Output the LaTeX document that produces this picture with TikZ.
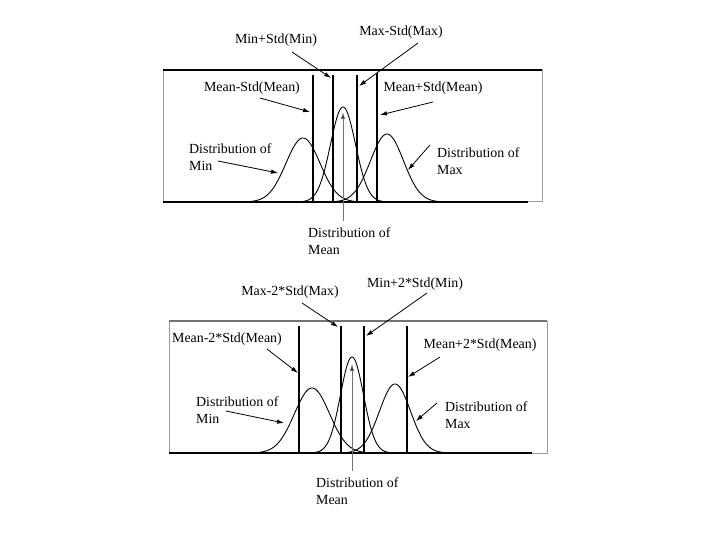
\documentclass[tikz,border=0pt]{standalone}
\usepackage{fontspec}
\setmainfont{Liberation Serif}
\usetikzlibrary{arrows.meta}
\begin{document}
\begin{tikzpicture}[x=1pt,y=-1pt,
  lbl/.style={inner sep=0pt,font=\fontsize{13.9}{16.5}\selectfont},
  lbl2/.style={lbl,align=left,anchor=west},
  frame/.style={draw=black!40,line width=1pt},
  axis/.style={draw=black,line width=1.4pt},
  vline/.style={draw=black,line width=1.4pt},
  curve/.style={draw=black,line width=0.9pt},
  ptr/.style={draw=black,line width=0.8pt,-{Latex[length=7pt,width=4.5pt]}},
  mptr/.style={draw=black!55,line width=0.8pt,-{Latex[length=7pt,width=4.5pt,fill=black]}}]
\useasboundingbox (0,0) rectangle (720,540);
% ---------- top panel ----------
\draw[frame] (163,70) rectangle (542,202);
\draw[draw=black,line width=1.8pt] (163,70) -- (542,70);
\draw[axis] (163,202) -- (528,202);
\draw[vline] (313,75) -- (313,202);
\draw[vline] (333,75) -- (333,202);
\draw[vline,line width=2.4pt] (357,75) -- (357,202);
\draw[vline] (377,73) -- (377,202);
\draw[curve] plot[domain=243:363,samples=100] (\x,{202-64*exp(-((\x-303)^2)/(2*17^2))});
\draw[curve] plot[domain=299:387,samples=100] (\x,{202-95*exp(-((\x-343)^2)/(2*12.5^2))});
\draw[curve] plot[domain=329:446,samples=100] (\x,{202-68*exp(-((\x-387)^2)/(2*16.5^2))});
\node[lbl] (t1) at (276,40) {Min+Std(Min)};
\node[lbl] (t2) at (401,32) {Max-Std(Max)};
\node[lbl] (t3) at (252,88) {Mean-Std(Mean)};
\node[lbl] (t4) at (433,88) {Mean+Std(Mean)};
\node[lbl2] (t5) at (189,157) {Distribution of\\Min};
\node[lbl2] (t6) at (437,161) {Distribution of\\Max};
\node[lbl2] (t7) at (308,241) {Distribution of\\Mean};
\coordinate (a1s) at (292,52); \coordinate (a1e) at (331,78);
\coordinate (a2s) at (418,43); \coordinate (a2e) at (359,86);
\coordinate (a3s) at (260,98); \coordinate (a3e) at (310,112);
\coordinate (a4s) at (433,102); \coordinate (a4e) at (380,115);
\coordinate (a5s) at (218,161); \coordinate (a5e) at (278,173);
\coordinate (a6s) at (430,145); \coordinate (a6e) at (408,170);
\coordinate (a7s) at (343,221); \coordinate (a7e) at (343,112);
\draw[ptr] (a1s) -- (a1e);
\draw[ptr] (a2s) -- (a2e);
\draw[ptr] (a3s) -- (a3e);
\draw[ptr] (a4s) -- (a4e);
\draw[ptr] (a5s) -- (a5e);
\draw[ptr] (a6s) -- (a6e);
\draw[mptr] (a7s) -- (a7e);
% ---------- bottom panel ----------
\draw[frame] (169,321) rectangle (547,453);
\draw[draw=black!55,line width=1.4pt] (169,321) -- (547,321);
\draw[axis] (169,453) -- (532,453);
\draw[vline] (299,326) -- (299,453);
\draw[vline] (341,326) -- (341,453);
\draw[vline] (364,326) -- (364,453);
\draw[vline] (407,326) -- (407,453);
\draw[curve] plot[domain=252:372,samples=100] (\x,{453-65*exp(-((\x-312)^2)/(2*17.5^2))});
\draw[curve] plot[domain=312:392,samples=100] (\x,{453-96*exp(-((\x-352)^2)/(2*11.5^2))});
\draw[curve] plot[domain=341:449,samples=100] (\x,{453-69*exp(-((\x-395)^2)/(2*15.5^2))});
\node[lbl] (b1) at (290,292) {Max-2*Std(Max)};
\node[lbl] (b2) at (415,284) {Min+2*Std(Min)};
\node[lbl] (b3) at (227,339) {Mean-2*Std(Mean)};
\node[lbl] (b4) at (480,345) {Mean+2*Std(Mean)};
\node[lbl2] (b5) at (196,410) {Distribution of\\Min};
\node[lbl2] (b6) at (445,415) {Distribution of\\Max};
\node[lbl2] (b7) at (316,491) {Distribution of\\Mean};
\coordinate (c1s) at (302,303); \coordinate (c1e) at (338,327);
\coordinate (c2s) at (427,293); \coordinate (c2e) at (366,336);
\coordinate (c3s) at (267,349); \coordinate (c3e) at (298,373);
\coordinate (c4s) at (440,357); \coordinate (c4e) at (408,377);
\coordinate (c5s) at (226,411); \coordinate (c5e) at (284,423);
\coordinate (c6s) at (437,403); \coordinate (c6e) at (416,421);
\coordinate (c7s) at (352,471); \coordinate (c7e) at (352,364);
\draw[ptr] (c1s) -- (c1e);
\draw[ptr] (c2s) -- (c2e);
\draw[ptr] (c3s) -- (c3e);
\draw[ptr] (c4s) -- (c4e);
\draw[ptr] (c5s) -- (c5e);
\draw[ptr] (c6s) -- (c6e);
\draw[mptr] (c7s) -- (c7e);
\end{tikzpicture}
\end{document}
